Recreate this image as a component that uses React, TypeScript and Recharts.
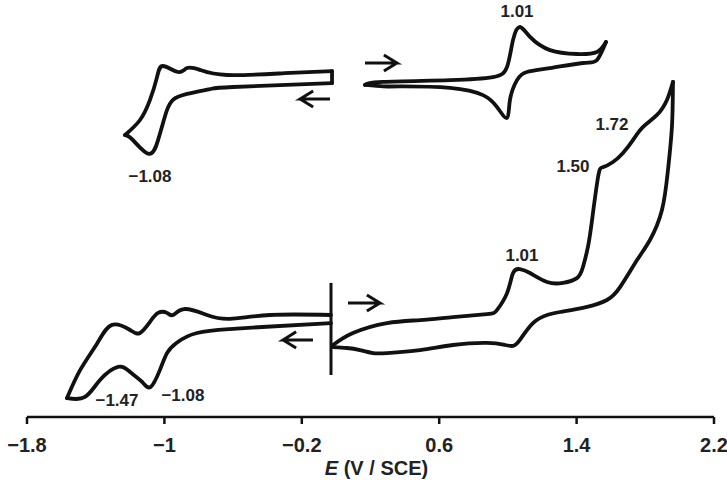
import React from "react";
import { LineChart, Line, XAxis, YAxis, ReferenceDot } from "recharts";

// [E (V vs SCE), current (a.u., traces offset vertically)]
const topLeftCathodic = [
  [-0.024, 111.3], [-0.601, 110.0], [-0.734, 109.3], [-0.868, 107.7],
  [-0.95, 105.7], [-0.985, 102.3], [-1.008, 98.0], [-1.037, 92.3],
  [-1.09, 87.7], [-1.183, 92.3], [-1.229, 94.0],
];
const topLeftAnodic = [
  [-1.229, 94.0], [-1.142, 99.0], [-1.084, 105.7], [-1.043, 113.3],
  [-1.008, 117.0], [-0.921, 115.0], [-0.868, 116.3], [-0.793, 115.7],
  [-0.636, 114.0], [-0.3, 114.6], [-0.024, 115.3],
];
const topLeftEdge = [[-0.024, 115.3], [-0.024, 111.3]];

const topRightAnodic = [
  [0.168, 110.7], [0.273, 111.7], [0.663, 112.3], [0.913, 113.3],
  [0.995, 116.7], [1.03, 125.7], [1.07, 130.0], [1.129, 126.7],
  [1.245, 122.3], [1.402, 121.0], [1.519, 121.7], [1.571, 125.0],
];
const topRightCathodic = [
  [1.571, 125.0], [1.519, 119.0], [1.437, 118.0], [1.245, 116.3],
  [1.111, 115.0], [1.053, 112.3], [1.012, 105.7], [0.995, 99.7],
  [0.937, 103.3], [0.855, 107.3], [0.663, 109.7], [0.372, 110.2],
  [0.273, 110.2], [0.168, 110.7],
];

const bottomLeftCathodic = [
  [-0.03, 31.3], [-0.43, 30.0], [-0.62, 29.3], [-0.81, 28.0],
  [-0.93, 24.7], [-0.985, 21.3], [-1.026, 15.7], [-1.08, 10.0],
  [-1.13, 11.7], [-1.2, 15.0], [-1.27, 16.7], [-1.375, 12.3],
  [-1.462, 6.7], [-1.567, 6.3],
];
const bottomLeftAnodic = [
  [-1.567, 6.3], [-1.49, 15.7], [-1.39, 24.7], [-1.305, 30.7],
  [-1.2, 29.0], [-1.142, 28.0], [-1.084, 31.7], [-1.037, 34.7],
  [-0.985, 34.7], [-0.95, 34.0], [-0.88, 36.0], [-0.752, 34.0],
  [-0.618, 32.7], [-0.385, 34.0], [-0.03, 34.0],
];

const bottomRightAnodic = [
  [-0.018, 24.0], [0.098, 28.0], [0.296, 31.3], [0.488, 32.3],
  [0.68, 33.3], [0.878, 34.3], [0.937, 35.7], [0.995, 41.3],
  [1.03, 48.0], [1.07, 49.3], [1.129, 48.0], [1.228, 45.0],
  [1.321, 44.7], [1.402, 46.3], [1.437, 50.0], [1.466, 56.7],
  [1.49, 65.7], [1.525, 80.0], [1.554, 83.3], [1.612, 85.0],
  [1.67, 88.0], [1.728, 92.3], [1.787, 96.7], [1.868, 100.7],
  [1.926, 105.7], [1.961, 111.7],
];
const bottomRightCathodic = [
  [1.961, 111.7], [1.955, 96.7], [1.932, 82.3], [1.897, 69.0],
  [1.827, 59.0], [1.752, 52.3], [1.653, 43.3], [1.577, 39.0],
  [1.461, 36.7], [1.303, 35.0], [1.228, 34.0], [1.146, 31.3],
  [1.07, 25.7], [1.03, 23.7], [0.983, 24.0], [0.878, 24.7],
  [0.68, 24.0], [0.488, 22.3], [0.296, 21.3], [0.215, 21.3],
  [0.139, 22.3], [0.063, 23.0], [-0.018, 23.3],
];

// start-potential marker for the lower scan
const startMarker = [[-0.03, 44.7], [-0.03, 14.0]];

// scan direction arrows: [tail E, tip E, current]
const arrows = [
  [0.168, 0.354, 118.0],
  [-0.036, -0.21, 106.0],
  [0.069, 0.255, 38.0],
  [-0.135, -0.309, 25.7],
];

// peak labels: [text, E, current]
const peakLabels: [string, number, number][] = [
  ["1.01", 1.053, 135.3],
  ["\u22121.08", -1.084, 80.3],
  ["1.72", 1.606, 97.7],
  ["1.50", 1.379, 83.7],
  ["1.01", 1.082, 54.0],
  ["\u22121.47", -1.276, 5.7],
  ["\u22121.08", -0.892, 7.3],
];

const xTicks = [-1.8, -1, -0.2, 0.6, 1.4, 2.2];

const FONT = "'Liberation Sans', Arial, sans-serif";
const INK = "#111";

const toPts = (rows: number[][]) => rows.map(([e, i]) => ({ e, i }));

function arrowPts([tail, tip, i]: number[]) {
  const dir = Math.sign(tip - tail);
  const back = tip - dir * 0.076;
  return toPts([
    [tail, i],
    [tip, i],
    [back, i + 2.7],
    [tip, i],
    [back, i - 2.7],
  ]);
}

const traces = [
  topLeftCathodic,
  topLeftAnodic,
  topLeftEdge,
  topRightAnodic,
  topRightCathodic,
  bottomLeftCathodic,
  bottomLeftAnodic,
  bottomRightAnodic,
  bottomRightCathodic,
];

const fmt = (v: number) => (v < 0 ? "\u2212" + Math.abs(v) : String(v));

function AxisTitle({ viewBox }: any) {
  const { x, y, width } = viewBox;
  return (
    <text
      x={x + width / 2 + 6}
      y={y + 58}
      textAnchor="middle"
      fontFamily={FONT}
      fontSize={20}
      fontWeight="bold"
      fill="#222"
    >
      <tspan fontStyle="italic">E</tspan> (V / SCE)
    </text>
  );
}

export default function App() {
  return (
    <div style={{ position: "absolute", left: 0, top: 0 }}>
      <LineChart
        width={727}
        height={480}
        margin={{ top: 0, right: 13, bottom: 3, left: 27 }}
      >
        <XAxis
          type="number"
          dataKey="e"
          domain={[-1.8, 2.2]}
          ticks={xTicks}
          tickFormatter={fmt}
          height={60}
          axisLine={{ stroke: INK, strokeWidth: 2.5 }}
          tickLine={{ stroke: INK, strokeWidth: 2.5 }}
          tickSize={7}
          tickMargin={14}
          tick={{ fontFamily: FONT, fontSize: 20, fontWeight: "bold", fill: "#222" }}
          label={{ content: AxisTitle }}
        />
        <YAxis type="number" dataKey="i" domain={[0, 139]} hide />
        {traces.map((rows, k) => (
          <Line
            key={`trace-${k}`}
            data={toPts(rows)}
            dataKey="i"
            type="natural"
            stroke={INK}
            strokeWidth={3.8}
            strokeLinejoin="round"
            strokeLinecap="round"
            dot={false}
            activeDot={false}
            isAnimationActive={false}
          />
        ))}
        <Line
          data={toPts(startMarker)}
          dataKey="i"
          type="linear"
          stroke={INK}
          strokeWidth={3}
          dot={false}
          activeDot={false}
          isAnimationActive={false}
        />
        {arrows.map((a, k) => (
          <Line
            key={`arrow-${k}`}
            data={arrowPts(a)}
            dataKey="i"
            type="linear"
            stroke={INK}
            strokeWidth={3}
            strokeLinejoin="miter"
            dot={false}
            activeDot={false}
            isAnimationActive={false}
          />
        ))}
        {peakLabels.map(([text, e, i], k) => (
          <ReferenceDot
            key={`lbl-${k}`}
            x={e}
            y={i}
            r={0}
            fill="none"
            stroke="none"
            label={{
              value: text,
              position: "center",
              fontFamily: FONT,
              fontSize: 17,
              fontWeight: "bold",
              fill: "#222",
            }}
          />
        ))}
      </LineChart>
    </div>
  );
}
